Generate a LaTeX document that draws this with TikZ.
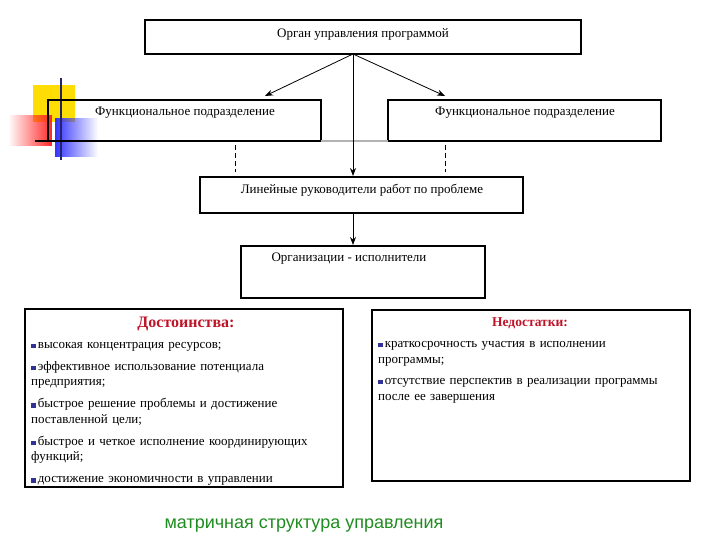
\documentclass[tikz,border=0pt]{standalone}
\usepackage{fontspec}
\setmainfont{Liberation Serif}
\newfontfamily\capfont{Liberation Sans}
\usetikzlibrary{arrows.meta,fadings}
\definecolor{dred}{RGB}{190,20,40}
\definecolor{bblue}{RGB}{50,50,150}
\definecolor{gcap}{RGB}{30,140,30}
\begin{document}
\begin{tikzpicture}[x=1pt,y=-1pt,
  box/.style={draw,line width=1.2pt},
  lbl/.style={font=\fontsize{13}{15}\selectfont},
  item/.style={anchor=north west,align=left,inner sep=0pt,font=\fontsize{13}{15.5}\selectfont},
  arr/.style={-{Stealth[length=8pt,width=6pt]},line width=0.8pt}]
\useasboundingbox (0,0) rectangle (720,540);
% decoration
\fill[yellow!80!orange] (33,85) rectangle (75,122);
\fill[red!85,path fading=west] (8,115) rectangle (52,146);
\fill[blue!80,path fading=east] (55,118) rectangle (98,157);
\draw[line width=1.5pt,bblue!70!black] (61,78) -- (61,160);
\draw[line width=1.5pt] (35,141) -- (100,141);
% boxes
\draw[box] (145,20) rectangle (581,54); \node[lbl] (top) at (363,34) {Орган управления программой};
\coordinate (topc) at (353,54);
\draw[box] (48,100) rectangle (321,141); \node[lbl] (f1) at (185,113) {Функциональное подразделение};
\draw[box] (388,100) rectangle (661,141); \node[lbl] (f2) at (525,113) {Функциональное подразделение};
\draw[gray!60,line width=1.2pt] (321,141) -- (388,141);
\draw[box] (200,177) rectangle (523,213); \node[lbl] (lin) at (362,190) {Линейные руководители работ по проблеме};
\draw[box] (241,246) rectangle (485,298); \node[lbl] (org) at (349,259) {Организации - исполнители};
\coordinate (a1) at (265,96); \coordinate (a2) at (445,96); \coordinate (a3) at (353,176);
\coordinate (b1) at (353,213); \coordinate (b2) at (353,245);
\draw[arr] (topc) -- (a1); \draw[arr] (topc) -- (a2); \draw[arr] (topc) -- (a3);
\draw[arr] (b1) -- (b2);
\coordinate (d1) at (235,145); \coordinate (d1e) at (235,172);
\coordinate (d2) at (445,145); \coordinate (d2e) at (445,172);
\draw[dashed,dash pattern=on 5pt off 3pt] (d1) -- (d1e); \draw[dashed,dash pattern=on 5pt off 3pt] (d2) -- (d2e);
% advantages
\draw[box] (25,309) rectangle (343,487);
\node[font=\fontsize{16}{18}\selectfont\bfseries,text=dred] (dt) at (186,324) {Достоинства:};
\def\bl{\textcolor{bblue}{\rule{4.5pt}{4.5pt}}\,}
\node[item,text width=330pt] (adv) at (31,342) {\bl высокая концентрация ресурсов;\\[6.5pt]
\bl эффективное использование потенциала\\ предприятия;\\[6.5pt]
\bl быстрое решение проблемы и достижение\\ поставленной цели;\\[6.5pt]
\bl быстрое и четкое исполнение координирующих\\ функций;\\[6.5pt]
\bl достижение экономичности в управлении};
\draw[box] (372,310) rectangle (690,481);
\node[font=\fontsize{13.5}{15}\selectfont\bfseries,text=dred] (nt) at (530,323) {Недостатки:};
\node[item,text width=315pt,font=\fontsize{13}{16}\selectfont] (dis) at (378,341) {\bl краткосрочность участия в исполнении\\ программы;\\[5pt]
\bl отсутствие перспектив в реализации программы\\ после ее завершения};
\node[font=\capfont\fontsize{18}{20}\selectfont,text=gcap] (cap) at (304,526) {матричная структура управления};
\end{tikzpicture}
\end{document}
